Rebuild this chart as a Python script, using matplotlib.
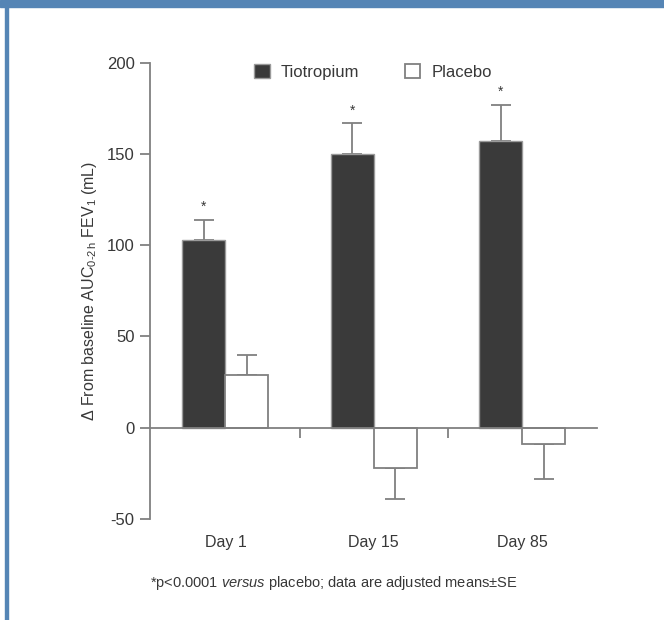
import numpy as np
import matplotlib
matplotlib.use("Agg")
import matplotlib.pyplot as plt
from matplotlib.patches import Rectangle

plt.rcParams['font.family'] = ['Liberation Sans', 'DejaVu Sans']
plt.rcParams['mathtext.fontset'] = 'custom'
plt.rcParams['mathtext.rm'] = 'Liberation Sans'
plt.rcParams['mathtext.it'] = 'Liberation Sans:italic'
plt.rcParams['mathtext.bf'] = 'Liberation Sans:bold'

# data
days = ["Day 1", "Day 15", "Day 85"]
tiotropium = [103, 150, 157]
tiotropium_se = [11, 17, 20]
placebo = [29, -22, -9]
placebo_se = [11, 17, 19]
ticks_y = [-50, 0, 50, 100, 150, 200]

AXIS_COL = "#808080"
TEXT_COL = "#383838"
DARK = "#3a3a3a"

fig = plt.figure(figsize=(6.64, 6.2), dpi=100)
ax = fig.add_axes([150/664, 1 - 519/620, 447/664, (519 - 62.7)/620])

x = np.arange(len(days))
w = 0.29

ax.bar(x - w/2, tiotropium, w, color=DARK, edgecolor="#9a9a9a", linewidth=1.0,
       label="Tiotropium", zorder=2)
ax.bar(x + w/2, placebo, w, color="white", edgecolor=AXIS_COL, linewidth=1.3,
       label="Placebo", zorder=2)

# one-sided error bars, in the bar's direction
for xi, v, e in zip(x - w/2, tiotropium, tiotropium_se):
    ax.errorbar(xi, v, yerr=[[0], [e]] if v >= 0 else [[e], [0]], fmt="none",
                ecolor=AXIS_COL, elinewidth=1.3, capsize=7.5, capthick=1.3, zorder=1)
    ax.text(xi, v + e + 3, "*", ha="center", va="bottom", fontsize=10, color=TEXT_COL)
for xi, v, e in zip(x + w/2, placebo, placebo_se):
    ax.errorbar(xi, v, yerr=[[0], [e]] if v >= 0 else [[e], [0]], fmt="none",
                ecolor=AXIS_COL, elinewidth=1.3, capsize=7.5, capthick=1.3, zorder=1)

ax.set_xlim(-0.509, 2.505)
ax.set_ylim(-50, 200)
ax.set_yticks(ticks_y)
ax.set_yticklabels([str(t) for t in ticks_y])

for s in ["top", "right"]:
    ax.spines[s].set_visible(False)
ax.spines["bottom"].set_position(("data", 0))
ax.spines["left"].set_bounds(-50, 200)
for s in ["left", "bottom"]:
    ax.spines[s].set_color(AXIS_COL)
    ax.spines[s].set_linewidth(1.3)

ax.set_xticks([0.5, 1.5])
ax.set_xticklabels([])
ax.tick_params(axis="x", direction="out", length=7, width=1.3, color=AXIS_COL)
ax.tick_params(axis="y", direction="out", length=7, width=1.3, color=AXIS_COL,
               labelsize=12, labelcolor=TEXT_COL, pad=4)

for xi, d in zip(x, days):
    ax.text(xi, -63, d, ha="center", va="center", fontsize=11.5, color=TEXT_COL)

ax.set_ylabel("\u0394 From baseline AUC$_{0\\text{-}2\\,\\mathrm{h}}$ FEV$_1$ (mL)",
              fontsize=11.5, color=TEXT_COL, labelpad=6)

leg = ax.legend(loc="upper left", bbox_to_anchor=(0.2, 1.03), ncol=2, frameon=False,
                fontsize=12, handlelength=0.95, handleheight=0.95, handletextpad=0.65,
                columnspacing=2.7)
for t in leg.get_texts():
    t.set_color(TEXT_COL)

fig.text(150/664, 1 - 583/620,
         "*p<0.0001 $\\it{versus}$ placebo; data are adjusted means\u00b1SE",
         ha="left", va="center", fontsize=10.5, color=TEXT_COL)

# blue frame
blue = "#5585b5"
fig.patches.append(Rectangle((0, 1 - 7/620), 1, 7/620, transform=fig.transFigure,
                             color=blue, zorder=0))
fig.patches.append(Rectangle((5/664, 0), 3/664, 1, transform=fig.transFigure,
                             color=blue, zorder=0))

fig.savefig("out.png", dpi=100)
